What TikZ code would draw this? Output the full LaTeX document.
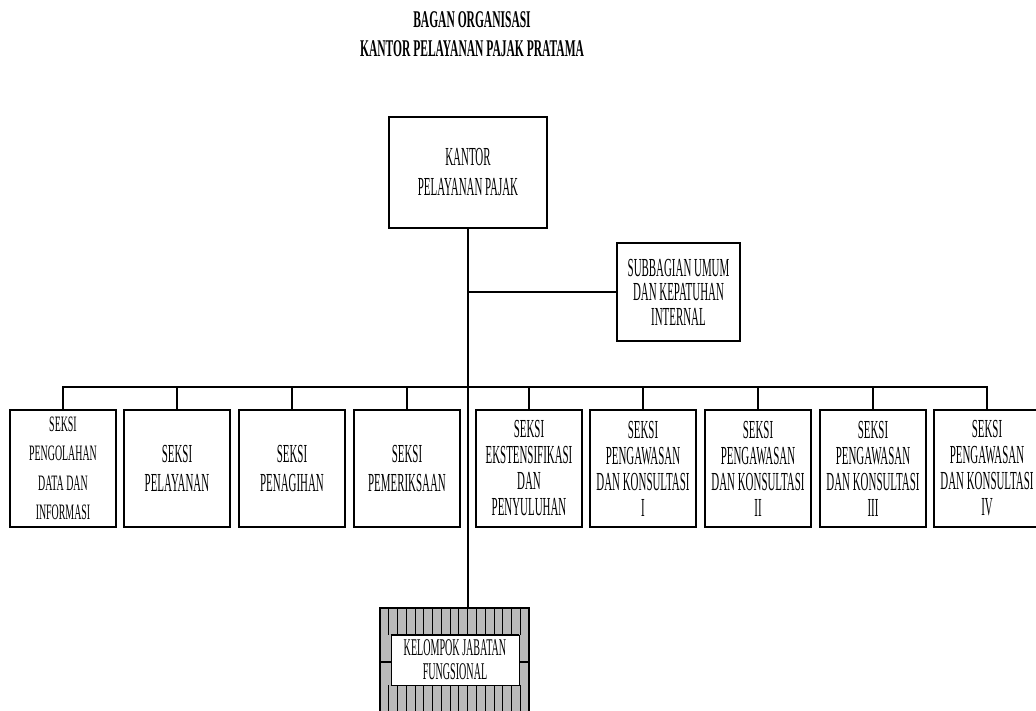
\documentclass[tikz,border=0pt]{standalone}
\usepackage{fontspec}
\setmainfont{Liberation Serif}
\newfontfamily\cnd[FakeStretch=0.42]{Liberation Serif}
\newfontfamily\cndsm[FakeStretch=0.45]{Liberation Serif}
\newfontfamily\cndb[FakeStretch=0.48]{Liberation Serif}
\begin{document}
\begin{tikzpicture}[x=1pt,y=-1pt,
  box/.style={draw=black, line width=1.6pt, minimum width=106pt, minimum height=117pt,
    inner sep=0pt, align=center, text=black, font=\cnd\fontsize{26}{29}\selectfont},
  boxsm/.style={box, font=\cndsm\fontsize{22}{29.5}\selectfont},
  boxpk/.style={box, font=\cnd\fontsize{26}{26}\selectfont},
  conn/.style={line width=1.3pt, draw=black},
  stripe/.style={line width=0.8pt, draw=black}]
\clip (0,0) rectangle (1036,711);
\fill[white] (0,0) rectangle (1036,711);

% title
\node[font=\cndb\bfseries\fontsize{24}{29}\selectfont, align=center, inner sep=0pt] (title) at (472,34)
  {BAGAN ORGANISASI\\KANTOR PELAYANAN PAJAK PRATAMA};

% top boxes
\node[box, minimum width=158pt, minimum height=111pt, font=\cnd\fontsize{26}{30}\selectfont] (kpp) at (468,172.5)
  {KANTOR\\PELAYANAN PAJAK};
\node[box, minimum width=123pt, minimum height=98pt, font=\cnd\fontsize{26}{24.5}\selectfont] (sub) at (678.5,292)
  {SUBBAGIAN UMUM\\DAN KEPATUHAN\\INTERNAL};

% section boxes
\node[boxsm] (b1) at (63,468.5) {SEKSI\\PENGOLAHAN\\DATA DAN\\INFORMASI};
\node[box] (b2) at (177,468.5) {SEKSI\\PELAYANAN};
\node[box] (b3) at (292,468.5) {SEKSI\\PENAGIHAN};
\node[box] (b4) at (407,468.5) {SEKSI\\PEMERIKSAAN};
\node[boxpk] (b5) at (529,468.5) {SEKSI\\EKSTENSIFIKASI\\DAN\\PENYULUHAN};
\node[boxpk] (b6) at (643,468.5) {SEKSI\\PENGAWASAN\\DAN KONSULTASI\\I};
\node[boxpk] (b7) at (758,468.5) {SEKSI\\PENGAWASAN\\DAN KONSULTASI\\II};
\node[boxpk] (b8) at (873,468.5) {SEKSI\\PENGAWASAN\\DAN KONSULTASI\\III};
\node[boxpk] (b9) at (987,468.5) {SEKSI\\PENGAWASAN\\DAN KONSULTASI\\IV};

% functional group box (patterned)
\node[draw=black, line width=1.3pt, fill=black!27, minimum width=149pt, minimum height=112pt, inner sep=0pt] (kjf) at (454.5,664) {};
\foreach \i in {1,...,16} {
  \draw[stripe] ({380+\i*8.765},608) -- ({380+\i*8.765},635);
  \draw[stripe] ({380+\i*8.765},685) -- ({380+\i*8.765},720);
}
\node[draw=black, line width=0.9pt, fill=white, minimum width=128pt, minimum height=50pt, inner sep=0pt] (kjfin) at (455,660) {};
\draw[line width=1.8pt] (kjfin.north west) -- (kjfin.north east);
\draw[line width=1.8pt] (kjfin.south west) -- (kjfin.south east);
\draw[line width=1.3pt] (kjf.west |- 0,662) -- (kjfin.west |- 0,662);
\draw[line width=1.3pt] (kjfin.east |- 0,662) -- (kjf.east |- 0,662);
\node[align=center, inner sep=0pt, text=black, font=\cnd\fontsize{24}{24}\selectfont] (kjftext) at (kjfin.center)
  {KELOMPOK JABATAN\\FUNGSIONAL};

% connectors
\coordinate (busy) at (0,387);
\draw[conn] (kpp.south) -- (kpp.south |- kjf.north);
\draw[conn] (kpp.south |- sub.west) -- (sub.west);
\draw[conn] (b1.north) -- (b1.north |- busy) -- (b9.north |- busy) -- (b9.north);
\foreach \b in {b2,b3,b4,b5,b6,b7,b8}
  \draw[conn] (\b.north) -- (\b.north |- busy);
\end{tikzpicture}
\end{document}
